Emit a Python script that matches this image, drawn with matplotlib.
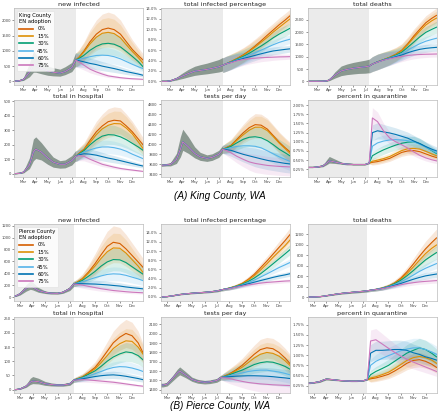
import matplotlib
matplotlib.use('Agg')
import matplotlib.pyplot as plt
import numpy as np
from matplotlib.ticker import MultipleLocator, FuncFormatter
from matplotlib.lines import Line2D

scenarios = ['0%', '15%', '30%', '45%', '60%', '75%']
colors = ['#d55e00', '#de8f05', '#029e73', '#56b4e9', '#0173b2', '#cc78bc']

month_days = [60, 91, 121, 152, 182, 213, 244, 274, 305, 335]
month_labels = ['Mar', 'Apr', 'May', 'Jun', 'Jul', 'Aug', 'Sep', 'Oct', 'Nov', 'Dec']

# day of year (2020) sample points, before and after EN rollout
pre_days = [36, 50, 60, 75, 85, 91, 105, 121, 135, 152, 165, 182, 192]
post_days = [192, 200, 213, 228, 244, 259, 274, 289, 305, 320, 335, 350, 362]
shade_end = 192

# ---------------- King County ----------------
king_new_pre = [0, 20, 60, 300, 550, 530, 420, 340, 300, 270, 320, 450, 700]
king_new_lo = [0, 10, 30, 150, 300, 300, 250, 200, 180, 170, 220, 320, 500]
king_new_hi = [0, 40, 120, 600, 1000, 900, 650, 500, 450, 400, 480, 620, 950]
king_new_post = [
    [700, 790, 1000, 1300, 1550, 1700, 1750, 1700, 1550, 1300, 1050, 850, 700],
    [700, 780, 970, 1230, 1450, 1580, 1610, 1570, 1430, 1200, 980, 780, 600],
    [700, 750, 860, 1020, 1150, 1230, 1250, 1220, 1130, 980, 820, 650, 480],
    [700, 720, 760, 810, 850, 860, 850, 810, 740, 650, 560, 480, 420],
    [700, 680, 640, 590, 550, 500, 460, 420, 370, 320, 280, 240, 200],
    [700, 640, 530, 400, 310, 240, 180, 150, 120, 100, 85, 75, 66],
]
king_new_spread = [0.32, 0.31, 0.3, 0.3, 0.3, 0.3, 0.3, 0.3, 0.3, 0.3, 0.3, 0.3, 0.3]

king_pct_pre = [0, 0, 0.1, 0.5, 0.85, 1.05, 1.5, 1.95, 2.1, 2.3, 2.5, 2.8, 3.1]
king_pct_lo = [0, 0, 0.05, 0.25, 0.45, 0.55, 0.85, 1.15, 1.3, 1.45, 1.6, 1.8, 2.0]
king_pct_hi = [0, 0, 0.15, 0.8, 1.35, 1.65, 2.3, 2.9, 3.2, 3.5, 3.8, 4.2, 4.6]
king_pct_post = [
    [3.1, 3.35, 3.8, 4.4, 5.1, 5.9, 6.8, 7.8, 8.9, 9.9, 10.9, 11.8, 12.6],
    [3.1, 3.35, 3.8, 4.35, 5.0, 5.75, 6.6, 7.5, 8.5, 9.5, 10.4, 11.3, 12.0],
    [3.1, 3.35, 3.75, 4.25, 4.8, 5.4, 6.1, 6.8, 7.6, 8.4, 9.1, 9.7, 10.2],
    [3.1, 3.35, 3.7, 4.15, 4.6, 5.05, 5.5, 6.0, 6.55, 7.05, 7.5, 7.85, 8.1],
    [3.1, 3.35, 3.65, 4.05, 4.4, 4.7, 5.0, 5.3, 5.6, 5.85, 6.0, 6.15, 6.25],
    [3.1, 3.35, 3.6, 3.95, 4.2, 4.35, 4.45, 4.55, 4.6, 4.65, 4.7, 4.72, 4.75],
]
king_pct_spread = [0.45, 0.43, 0.38, 0.32, 0.27, 0.23, 0.2, 0.17, 0.15, 0.13, 0.12, 0.11, 0.1]

king_death_pre = [0, 0, 0, 5, 20, 50, 250, 420, 480, 530, 560, 590, 620]
king_death_lo = [0, 0, 0, 2, 10, 25, 130, 230, 270, 300, 320, 330, 350]
king_death_hi = [0, 0, 0, 10, 40, 90, 380, 620, 700, 770, 810, 860, 900]
king_death_post = [
    [620, 700, 790, 880, 980, 1100, 1260, 1520, 1850, 2120, 2380, 2560, 2680],
    [620, 700, 790, 880, 975, 1090, 1240, 1480, 1780, 2050, 2290, 2460, 2570],
    [620, 700, 790, 875, 965, 1060, 1180, 1380, 1600, 1810, 1990, 2110, 2200],
    [620, 700, 785, 870, 950, 1030, 1120, 1260, 1410, 1530, 1630, 1700, 1750],
    [620, 700, 785, 865, 935, 1000, 1070, 1160, 1240, 1300, 1340, 1365, 1380],
    [620, 700, 780, 860, 920, 970, 1010, 1050, 1075, 1090, 1100, 1105, 1110],
]
king_death_spread = [0.45, 0.43, 0.4, 0.35, 0.3, 0.25, 0.21, 0.18, 0.15, 0.13, 0.12, 0.11, 0.11]

king_hosp_pre = [0, 2, 10, 60, 150, 170, 150, 110, 80, 65, 65, 90, 120]
king_hosp_lo = [0, 1, 5, 35, 90, 105, 95, 65, 45, 38, 40, 60, 90]
king_hosp_hi = [0, 4, 18, 110, 240, 255, 215, 160, 115, 90, 95, 125, 160]
king_hosp_post = [
    [120, 140, 170, 230, 290, 330, 360, 370, 365, 330, 290, 240, 200],
    [120, 138, 165, 215, 270, 310, 335, 347, 345, 315, 275, 220, 175],
    [120, 135, 160, 200, 235, 260, 270, 268, 255, 235, 210, 185, 162],
    [120, 132, 150, 165, 178, 185, 185, 180, 170, 155, 135, 118, 104],
    [120, 130, 138, 135, 128, 118, 108, 100, 90, 80, 70, 60, 53],
    [120, 125, 120, 100, 82, 65, 55, 45, 36, 30, 25, 20, 16],
]
king_hosp_spread = [0.3, 0.28, 0.26, 0.25, 0.25, 0.25, 0.25, 0.25, 0.25, 0.25, 0.25, 0.25, 0.25]

king_test_pre = [3580, 3590, 3600, 3700, 3900, 4050, 3950, 3820, 3750, 3720, 3740, 3800, 3900]
king_test_lo = [3560, 3570, 3570, 3620, 3750, 3880, 3820, 3730, 3680, 3660, 3680, 3740, 3830]
king_test_hi = [3600, 3620, 3640, 3820, 4150, 4300, 4150, 3950, 3840, 3790, 3810, 3880, 3980]
king_test_post = [
    [3900, 3930, 3980, 4100, 4230, 4330, 4390, 4380, 4300, 4170, 4040, 3930, 3850],
    [3900, 3925, 3970, 4080, 4190, 4280, 4340, 4340, 4270, 4150, 4020, 3910, 3820],
    [3900, 3920, 3960, 4030, 4100, 4140, 4150, 4130, 4070, 3990, 3900, 3830, 3770],
    [3900, 3910, 3930, 3960, 3970, 3970, 3960, 3930, 3870, 3810, 3750, 3700, 3660],
    [3900, 3895, 3880, 3840, 3800, 3770, 3740, 3710, 3680, 3660, 3640, 3620, 3610],
    [3900, 3880, 3830, 3760, 3700, 3650, 3620, 3600, 3580, 3570, 3560, 3555, 3550],
]
king_test_spread = [0.02, 0.025, 0.03, 0.035, 0.04, 0.045, 0.05, 0.05, 0.05, 0.05, 0.05, 0.05, 0.05]

king_quar_pre = [0.30, 0.30, 0.31, 0.34, 0.42, 0.48, 0.45, 0.41, 0.39, 0.38, 0.38, 0.38, 0.42]
king_quar_lo = [0.30, 0.30, 0.30, 0.32, 0.38, 0.42, 0.41, 0.39, 0.37, 0.37, 0.37, 0.37, 0.40]
king_quar_hi = [0.30, 0.31, 0.32, 0.37, 0.52, 0.60, 0.53, 0.45, 0.41, 0.40, 0.40, 0.40, 0.44]
king_quar_post = [
    [0.42, 0.44, 0.46, 0.50, 0.55, 0.63, 0.71, 0.75, 0.76, 0.73, 0.67, 0.61, 0.57],
    [0.42, 0.47, 0.50, 0.54, 0.60, 0.68, 0.76, 0.81, 0.82, 0.80, 0.74, 0.67, 0.62],
    [0.42, 0.62, 0.70, 0.78, 0.85, 0.91, 0.96, 0.99, 1.00, 0.95, 0.86, 0.76, 0.68],
    [0.42, 0.88, 0.97, 1.02, 1.05, 1.06, 1.05, 1.03, 1.00, 0.93, 0.85, 0.77, 0.70],
    [0.42, 1.25, 1.30, 1.27, 1.24, 1.20, 1.15, 1.10, 1.02, 0.95, 0.87, 0.80, 0.75],
    [0.42, 1.65, 1.55, 1.30, 1.10, 1.00, 0.92, 0.83, 0.72, 0.63, 0.56, 0.51, 0.48],
]
king_quar_spread = [0.05, 0.17, 0.17, 0.16, 0.15, 0.15, 0.15, 0.15, 0.15, 0.15, 0.15, 0.15, 0.15]

# ---------------- Pierce County ----------------
pierce_new_pre = [10, 20, 55, 150, 185, 170, 110, 80, 65, 62, 80, 140, 220]
pierce_new_lo = [5, 10, 35, 100, 130, 120, 80, 60, 50, 48, 62, 110, 180]
pierce_new_hi = [15, 30, 80, 210, 270, 250, 160, 105, 85, 80, 100, 175, 270]
pierce_new_post = [
    [220, 250, 310, 420, 560, 710, 850, 920, 900, 810, 700, 590, 500],
    [220, 245, 300, 400, 520, 650, 760, 825, 820, 740, 630, 520, 415],
    [220, 240, 280, 350, 430, 520, 590, 630, 625, 580, 510, 440, 385],
    [220, 235, 255, 290, 325, 355, 380, 390, 385, 365, 335, 305, 276],
    [220, 225, 225, 222, 218, 212, 205, 195, 185, 170, 158, 147, 138],
    [220, 215, 200, 180, 160, 140, 125, 110, 100, 90, 82, 76, 72],
]
pierce_new_spread = [0.2, 0.22, 0.25, 0.28, 0.3, 0.3, 0.3, 0.3, 0.3, 0.3, 0.3, 0.3, 0.3]

pierce_pct_pre = [0, 0, 0.05, 0.25, 0.4, 0.5, 0.65, 0.78, 0.88, 0.98, 1.08, 1.28, 1.5]
pierce_pct_lo = [0, 0, 0.04, 0.21, 0.34, 0.42, 0.55, 0.66, 0.75, 0.84, 0.92, 1.08, 1.25]
pierce_pct_hi = [0, 0, 0.06, 0.29, 0.46, 0.58, 0.75, 0.9, 1.01, 1.12, 1.24, 1.48, 1.75]
pierce_pct_post = [
    [1.5, 1.65, 1.9, 2.3, 2.9, 3.8, 4.9, 6.3, 7.8, 9.3, 10.8, 12.3, 13.6],
    [1.5, 1.65, 1.9, 2.3, 2.85, 3.65, 4.6, 5.8, 7.2, 8.6, 9.9, 11.2, 12.4],
    [1.5, 1.65, 1.9, 2.25, 2.75, 3.35, 4.1, 5.0, 6.1, 7.2, 8.3, 9.4, 10.3],
    [1.5, 1.65, 1.85, 2.2, 2.6, 3.1, 3.65, 4.3, 5.0, 5.7, 6.4, 7.0, 7.5],
    [1.5, 1.65, 1.85, 2.15, 2.5, 2.85, 3.2, 3.55, 3.9, 4.25, 4.55, 4.8, 5.05],
    [1.5, 1.65, 1.8, 2.1, 2.35, 2.6, 2.8, 3.0, 3.15, 3.25, 3.35, 3.45, 3.5],
]
pierce_pct_spread = [0.16, 0.17, 0.18, 0.18, 0.17, 0.16, 0.15, 0.14, 0.13, 0.12, 0.12, 0.11, 0.11]

pierce_death_pre = [0, 0, 2, 8, 16, 25, 42, 62, 75, 88, 98, 110, 120]
pierce_death_lo = [0, 0, 1, 6, 12, 19, 33, 50, 61, 72, 80, 90, 98]
pierce_death_hi = [0, 0, 3, 10, 20, 31, 51, 74, 89, 104, 116, 130, 142]
pierce_death_post = [
    [120, 130, 145, 170, 210, 270, 360, 480, 630, 780, 920, 1040, 1130],
    [120, 130, 145, 170, 208, 262, 340, 445, 575, 705, 830, 930, 995],
    [120, 130, 145, 168, 205, 255, 320, 405, 505, 610, 710, 790, 850],
    [120, 130, 145, 166, 200, 240, 290, 350, 420, 490, 550, 600, 640],
    [120, 130, 144, 163, 193, 225, 260, 300, 340, 375, 405, 425, 440],
    [120, 130, 143, 160, 185, 210, 235, 258, 275, 290, 300, 308, 315],
]
pierce_death_spread = [0.18, 0.18, 0.19, 0.2, 0.2, 0.2, 0.19, 0.18, 0.17, 0.16, 0.16, 0.15, 0.15]

pierce_hosp_pre = [0, 0, 2, 12, 26, 30, 28, 21, 18, 16, 16, 20, 33]
pierce_hosp_lo = [0, 0, 1, 8, 18, 21, 20, 15, 13, 12, 12, 15, 26]
pierce_hosp_hi = [0, 0, 3, 18, 40, 46, 40, 29, 24, 21, 21, 26, 40]
pierce_hosp_post = [
    [33, 38, 45, 60, 78, 105, 135, 165, 185, 198, 190, 165, 130],
    [33, 37, 44, 57, 73, 95, 120, 145, 162, 172, 170, 150, 125],
    [33, 37, 43, 54, 66, 82, 100, 115, 126, 133, 130, 120, 105],
    [33, 36, 41, 48, 56, 64, 72, 78, 81, 80, 76, 70, 64],
    [33, 35, 38, 42, 46, 49, 51, 52, 50, 47, 43, 39, 35],
    [33, 34, 35, 34, 32, 30, 28, 26, 23, 20, 17, 14, 12],
]
pierce_hosp_spread = [0.22, 0.24, 0.25, 0.25, 0.25, 0.25, 0.25, 0.25, 0.25, 0.25, 0.25, 0.25, 0.25]

pierce_test_pre = [1450, 1450, 1460, 1530, 1580, 1600, 1560, 1510, 1490, 1480, 1485, 1500, 1530]
pierce_test_lo = [1430, 1430, 1440, 1500, 1540, 1560, 1530, 1490, 1470, 1462, 1466, 1480, 1505]
pierce_test_hi = [1470, 1470, 1480, 1560, 1620, 1645, 1595, 1535, 1512, 1500, 1505, 1522, 1555]
pierce_test_post = [
    [1530, 1545, 1570, 1610, 1660, 1720, 1780, 1830, 1850, 1840, 1800, 1740, 1680],
    [1530, 1543, 1565, 1600, 1640, 1690, 1740, 1780, 1800, 1790, 1760, 1710, 1660],
    [1530, 1540, 1560, 1585, 1610, 1640, 1670, 1690, 1700, 1695, 1675, 1650, 1620],
    [1530, 1538, 1550, 1565, 1580, 1595, 1605, 1610, 1610, 1600, 1590, 1575, 1560],
    [1530, 1535, 1540, 1545, 1548, 1550, 1550, 1548, 1545, 1540, 1533, 1527, 1520],
    [1530, 1528, 1520, 1505, 1490, 1478, 1470, 1463, 1458, 1453, 1450, 1447, 1445],
]
pierce_test_spread = [0.016, 0.025, 0.035, 0.04, 0.045, 0.05, 0.055, 0.06, 0.06, 0.06, 0.06, 0.06, 0.06]

pierce_quar_pre = [0.31, 0.31, 0.32, 0.35, 0.39, 0.41, 0.40, 0.38, 0.37, 0.36, 0.36, 0.37, 0.40]
pierce_quar_lo = [0.30, 0.30, 0.31, 0.33, 0.37, 0.39, 0.38, 0.37, 0.36, 0.35, 0.35, 0.36, 0.39]
pierce_quar_hi = [0.32, 0.32, 0.33, 0.37, 0.41, 0.44, 0.42, 0.39, 0.38, 0.37, 0.37, 0.38, 0.41]
pierce_quar_post = [
    [0.40, 0.42, 0.44, 0.48, 0.53, 0.61, 0.70, 0.80, 0.87, 0.89, 0.85, 0.78, 0.70],
    [0.40, 0.44, 0.47, 0.52, 0.58, 0.67, 0.77, 0.87, 0.94, 0.97, 0.94, 0.88, 0.80],
    [0.40, 0.52, 0.60, 0.67, 0.75, 0.85, 0.95, 1.05, 1.12, 1.18, 1.14, 1.05, 0.96],
    [0.40, 0.75, 0.85, 0.92, 0.99, 1.05, 1.11, 1.15, 1.18, 1.18, 1.14, 1.08, 1.02],
    [0.40, 1.05, 1.12, 1.12, 1.13, 1.14, 1.14, 1.12, 1.06, 1.02, 0.96, 0.92, 0.88],
    [0.40, 1.35, 1.38, 1.28, 1.17, 1.07, 0.98, 0.90, 0.83, 0.77, 0.71, 0.65, 0.60],
]
pierce_quar_spread = [0.03, 0.2, 0.2, 0.2, 0.2, 0.2, 0.2, 0.2, 0.2, 0.2, 0.2, 0.2, 0.2]

titles = ['new infected', 'total infected percentage', 'total deaths',
          'total in hospital', 'tests per day', 'percent in quarantine']

W, H = 440, 418
fig = plt.figure(figsize=(W / 100, H / 100), dpi=100)

col_left = [14, 161, 307.5]
col_width = 129
row_top = [8, 100, 224, 317]
row_height = [77, 77, 77, 76]


def px_axes(left, top, width, height):
    return fig.add_axes([left / W, 1 - (top + height) / H, width / W, height / H])


int_fmt = FuncFormatter(lambda v, p: f'{v:.0f}')
pct1_fmt = FuncFormatter(lambda v, p: f'{v:.1f}%')
pct2_fmt = FuncFormatter(lambda v, p: f'{v:.2f}%')

king_panels = [
    (king_new_pre, king_new_lo, king_new_hi, king_new_post, king_new_spread, 500, int_fmt, (-120, 2410)),
    (king_pct_pre, king_pct_lo, king_pct_hi, king_pct_post, king_pct_spread, 2, pct1_fmt, (-0.7, 14.1)),
    (king_death_pre, king_death_lo, king_death_hi, king_death_post, king_death_spread, 500, int_fmt, (-150, 2980)),
    (king_hosp_pre, king_hosp_lo, king_hosp_hi, king_hosp_post, king_hosp_spread, 100, int_fmt, (-23, 510)),
    (king_test_pre, king_test_lo, king_test_hi, king_test_post, king_test_spread, 200, int_fmt, (3350, 4880)),
    (king_quar_pre, king_quar_lo, king_quar_hi, king_quar_post, king_quar_spread, 0.25, pct2_fmt, (0.04, 2.14)),
]
pierce_panels = [
    (pierce_new_pre, pierce_new_lo, pierce_new_hi, pierce_new_post, pierce_new_spread, 200, int_fmt, (-66, 1227)),
    (pierce_pct_pre, pierce_pct_lo, pierce_pct_hi, pierce_pct_post, pierce_pct_spread, 2, pct1_fmt, (-0.9, 15.9)),
    (pierce_death_pre, pierce_death_lo, pierce_death_hi, pierce_death_post, pierce_death_spread, 200, int_fmt, (-75, 1396)),
    (pierce_hosp_pre, pierce_hosp_lo, pierce_hosp_hi, pierce_hosp_post, pierce_hosp_spread, 50, int_fmt, (-12, 256)),
    (pierce_test_pre, pierce_test_lo, pierce_test_hi, pierce_test_post, pierce_test_spread, 100, int_fmt, (1365, 2180)),
    (pierce_quar_pre, pierce_quar_lo, pierce_quar_hi, pierce_quar_post, pierce_quar_spread, 0.25, pct2_fmt, (0.07, 1.94)),
]


def draw_panel(ax, spec, title, x_start):
    pre, lo, hi, post, spread, step, fmt, ylim = spec
    s = np.array(spread)
    ax.axvspan(x_start, shade_end, color='#ebebeb', zorder=0, lw=0)
    # before rollout all scenarios share the same run: one dark band
    ax.fill_between(pre_days, lo, hi, color='#6a7c72', alpha=0.75, lw=0, zorder=1)
    curves = []
    for k in range(len(scenarios)):
        v = np.array(post[k], dtype=float)
        ax.fill_between(post_days, v * (1 - s), v * (1 + s), color=colors[k],
                        alpha=0.15, lw=0, zorder=1)
        curves.append(np.concatenate([pre, v[1:]]))
    days = pre_days + post_days[1:]
    for k, y in enumerate(curves):
        ax.plot(days, y, color=colors[k], lw=0.8, zorder=2)
    ax.set_xlim(x_start, 362)
    ax.set_ylim(*ylim)
    ax.set_xticks(month_days)
    ax.set_xticklabels(month_labels)
    ax.yaxis.set_major_locator(MultipleLocator(step))
    ax.yaxis.set_major_formatter(fmt)
    ax.tick_params(labelsize=2.7, length=1.5, width=0.4, pad=0.8, colors='#444444')
    for sp in ax.spines.values():
        sp.set_color('#bbbbbb')
        sp.set_linewidth(0.5)
    ax.set_title(title, fontsize=4.6, pad=1.2, color='#222222')


for county, panels, top_rows, x_start in [('King County', king_panels, (0, 1), 36),
                                          ('Pierce County', pierce_panels, (2, 3), 45)]:
    for i, spec in enumerate(panels):
        r = top_rows[i // 3]
        c = i % 3
        ax = px_axes(col_left[c], row_top[r], col_width, row_height[r])
        draw_panel(ax, spec, titles[i], x_start)
        if i == 0:
            handles = [Line2D([0], [0], color=colors[k], lw=1.2) for k in range(len(scenarios))]
            leg = ax.legend(handles, scenarios, title=county + '\nEN adoption', loc='upper left',
                            fontsize=3.8, title_fontsize=3.8, handlelength=2.6, labelspacing=0.45,
                            borderpad=0.5, framealpha=0.85, edgecolor='#dddddd', alignment='left')
            leg.get_frame().set_linewidth(0.4)

fig.text(0.5, 1 - 196 / H, '(A) King County, WA', ha='center', va='center',
         fontsize=7.2, style='italic', family='Liberation Sans')
fig.text(0.5, 1 - 406 / H, '(B) Pierce County, WA', ha='center', va='center',
         fontsize=7.2, style='italic', family='Liberation Sans')

fig.savefig('out.png', dpi=100)
